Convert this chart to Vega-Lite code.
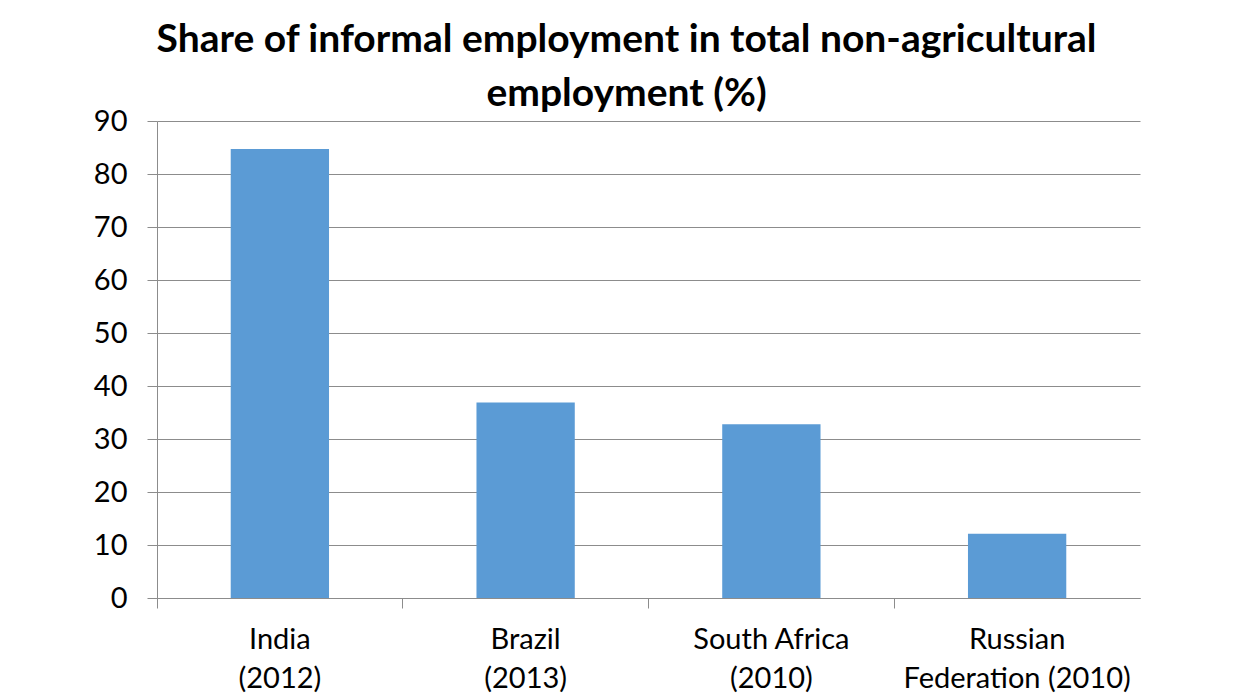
{
  "$schema": "https://vega.github.io/schema/vega-lite/v6.json",
  "autosize": {"type": "none"},
  "padding": {"left": 157, "top": 121, "right": 113, "bottom": 100},
  "width": 983,
  "height": 477,
  "background": "white",
  "title": {
    "text": ["Share of informal employment in total non-agricultural", "employment (%)"],
    "font": "Lato",
    "fontWeight": "bold",
    "fontSize": 39,
    "lineHeight": 54,
    "color": "#000000",
    "anchor": "middle",
    "frame": "group",
    "offset": -7,
    "dx": -22
  },
  "data": {
    "values": [
      {"country": "India|(2012)", "share": 84.7},
      {"country": "Brazil|(2013)", "share": 36.9},
      {"country": "South Africa|(2010)", "share": 32.8},
      {"country": "Russian|Federation (2010)", "share": 12.1}
    ]
  },
  "mark": {"type": "bar", "color": "#5B9BD5", "width": {"band": 0.4}},
  "encoding": {
    "x": {
      "field": "country",
      "type": "nominal",
      "sort": null,
      "scale": {"paddingInner": 0, "paddingOuter": 0},
      "axis": {
        "title": null,
        "labelAngle": 0,
        "labelExpr": "split(datum.label, '|')",
        "labelFont": "Lato",
        "labelFontSize": 29,
        "labelLineHeight": 39,
        "labelColor": "#000000",
        "labelPadding": 17,
        "labelLimit": 400,
        "bandPosition": 0,
        "tickSize": 10,
        "tickColor": "#8c8c8c",
        "domainColor": "#8c8c8c",
        "grid": false
      }
    },
    "y": {
      "field": "share",
      "type": "quantitative",
      "scale": {"domain": [0, 90], "nice": false},
      "axis": {
        "title": null,
        "values": [0, 10, 20, 30, 40, 50, 60, 70, 80, 90],
        "labelFont": "Lato",
        "labelFontSize": 29,
        "labelColor": "#000000",
        "labelPadding": 20,
        "tickSize": 10,
        "tickColor": "#8c8c8c",
        "domainColor": "#8c8c8c",
        "gridColor": "#8c8c8c",
        "grid": true
      }
    }
  },
  "config": {"view": {"stroke": null}}
}
